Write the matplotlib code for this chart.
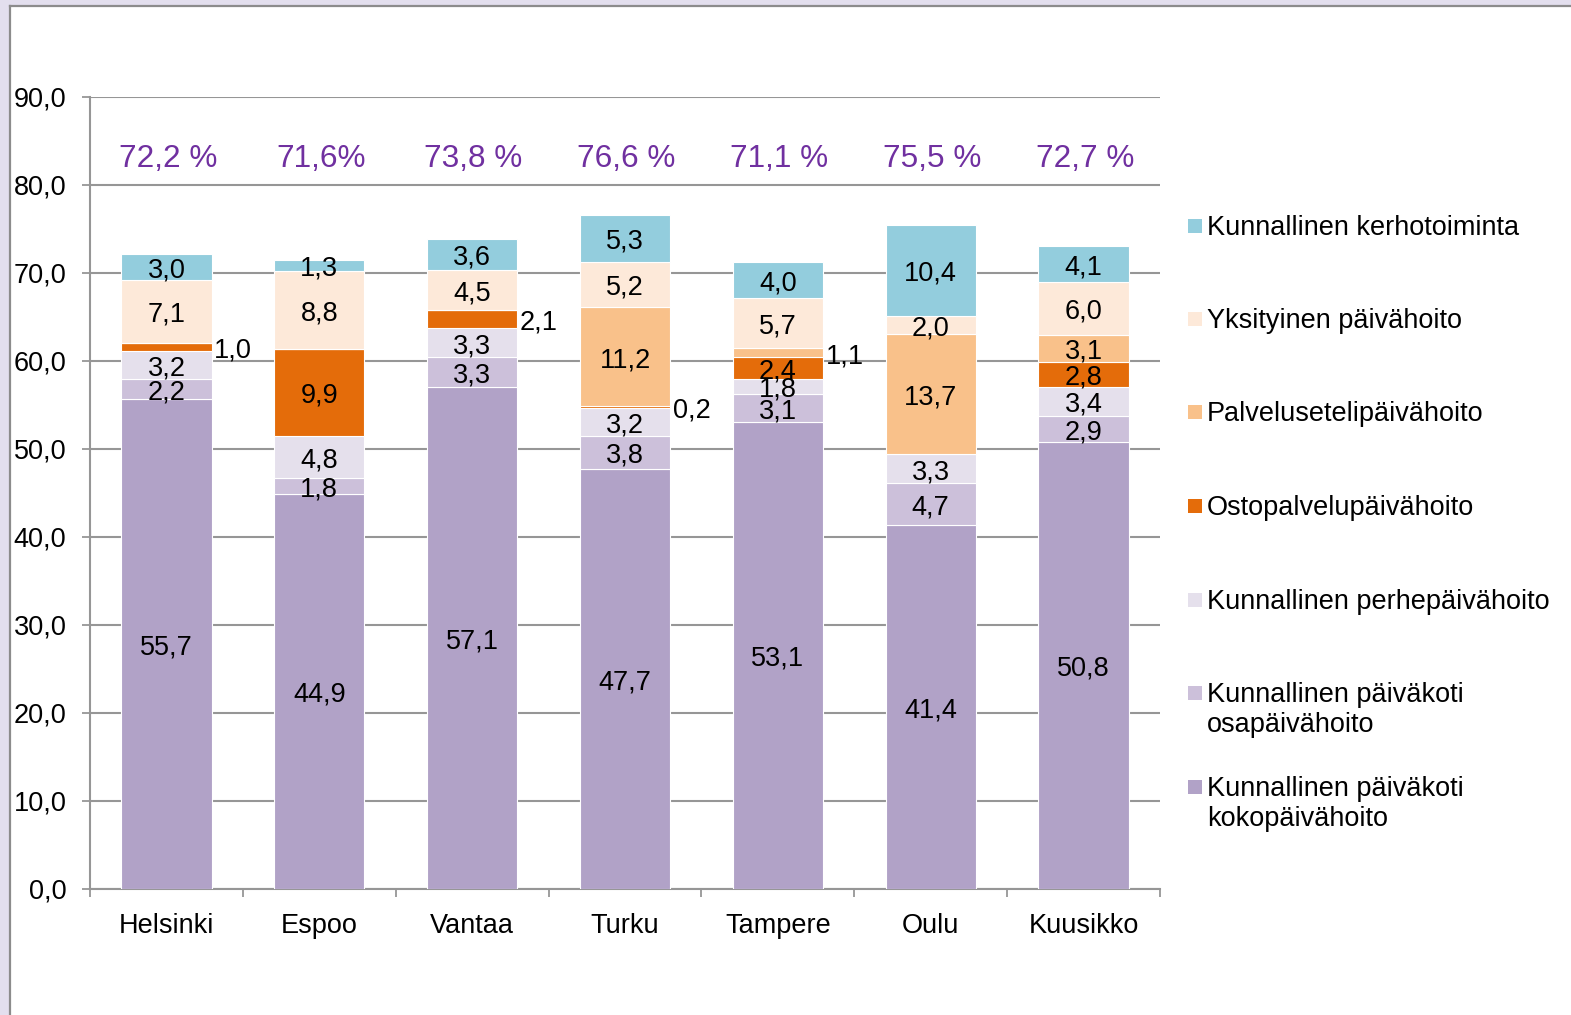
import matplotlib
matplotlib.use("Agg")
import matplotlib.pyplot as plt
from matplotlib.patches import Rectangle
from matplotlib.lines import Line2D
import numpy as np

plt.rcParams['font.family'] = ['Liberation Sans', 'DejaVu Sans']

categories = ["Helsinki", "Espoo", "Vantaa", "Turku", "Tampere", "Oulu", "Kuusikko"]

series_names = [
    "Kunnallinen päiväkoti\nkokopäivähoito",
    "Kunnallinen päiväkoti\nosapäivähoito",
    "Kunnallinen perhepäivähoito",
    "Ostopalvelupäivähoito",
    "Palvelusetelipäivähoito",
    "Yksityinen päivähoito",
    "Kunnallinen kerhotoiminta",
]

kokopaiva = [55.7, 44.9, 57.1, 47.7, 53.1, 41.4, 50.8]
osapaiva = [2.2, 1.8, 3.3, 3.8, 3.1, 4.7, 2.9]
perhepaiva = [3.2, 4.8, 3.3, 3.2, 1.8, 3.3, 3.4]
ostopalvelu = [1.0, 9.9, 2.1, 0.2, 2.4, 0.0, 2.8]
palveluseteli = [0.0, 0.0, 0.0, 11.2, 1.1, 13.7, 3.1]
yksityinen = [7.1, 8.8, 4.5, 5.2, 5.7, 2.0, 6.0]
kerho = [3.0, 1.3, 3.6, 5.3, 4.0, 10.4, 4.1]

total_labels = ["72,2 %", "71,6%", "73,8 %", "76,6 %", "71,1 %", "75,5 %", "72,7 %"]

series_values = [kokopaiva, osapaiva, perhepaiva, ostopalvelu, palveluseteli, yksityinen, kerho]
colors = ["#B1A2C7", "#CCC0DA", "#E5E0EC", "#E46C0A", "#F9C18A", "#FDE9D9", "#93CDDD"]

# labels drawn to the right of the bar: (category index, series index)
outside_labels = {(0, 3), (2, 3), (3, 3), (4, 4)}

W, H = 1571, 1015
fig = plt.figure(figsize=(W / 100, H / 100), dpi=100)

# frame background
fig.patches.append(Rectangle((0, 0), 1, 1, transform=fig.transFigure,
                             facecolor="#E3DFEE", edgecolor="none", zorder=-10))
fig.patches.append(Rectangle((10.5 / W, 0), 1, 1 - 6.5 / H, transform=fig.transFigure,
                             facecolor="white", edgecolor="none", zorder=-9))
fig.lines.append(Line2D([10 / W, 10 / W], [0, 1 - 6 / H], transform=fig.transFigure,
                        color="#8C8C8C", lw=1.6))
fig.lines.append(Line2D([10 / W, 1], [1 - 6 / H, 1 - 6 / H], transform=fig.transFigure,
                        color="#8C8C8C", lw=1.6))

ax_left, ax_right, ax_top, ax_bottom = 90, 1160, 97, 889
ax = fig.add_axes([ax_left / W, (H - ax_bottom) / H, (ax_right - ax_left) / W,
                   (ax_bottom - ax_top) / H])
ax.set_facecolor("none")

x = np.arange(len(categories))
bw = 0.59
fs = 19.5
bottom = np.zeros(len(categories))
for si, (name, vals, col) in enumerate(zip(series_names, series_values, colors)):
    vals = np.array(vals)
    ax.bar(x, vals, bw, bottom=bottom, color=col, edgecolor="white", linewidth=0.8,
           label=name, zorder=3)
    for ci, v in enumerate(vals):
        if v <= 0:
            continue
        yc = bottom[ci] + v / 2
        txt = f"{v:.1f}".replace(".", ",")
        if (ci, si) in outside_labels:
            ax.annotate(txt, (x[ci] + bw / 2, yc), xytext=(2, -2.5),
                        textcoords="offset points", ha="left", va="center",
                        fontsize=fs, color="black", zorder=5)
        else:
            ax.annotate(txt, (x[ci], yc), xytext=(0, -2.5),
                        textcoords="offset points", ha="center", va="center",
                        fontsize=fs, color="black", zorder=5)
    bottom = bottom + vals

for ci, t in enumerate(total_labels):
    ax.annotate(t, (x[ci], 83.3), xytext=(1, -2.5), textcoords="offset points",
                ha="center", va="center", fontsize=22.7, color="#7030A0")

ax.set_xlim(-0.5, len(categories) - 0.5)
ax.set_ylim(0, 90)
ax.set_yticks(np.arange(0, 91, 10))
ax.set_yticklabels([f"{v:.1f}".replace(".", ",") for v in np.arange(0, 91, 10)], fontsize=fs)
ax.yaxis.grid(True, color="#969696", linewidth=1.5, zorder=0)
ax.set_axisbelow(True)
ax.tick_params(axis="y", length=6, width=1.3, color="#969696", pad=11)

ax.set_xticks(x)
ax.set_xticklabels(categories, fontsize=fs)
ax.set_xticks(np.arange(-0.5, len(categories)), minor=True)
ax.tick_params(axis="x", which="major", length=0, pad=17)
ax.tick_params(axis="x", which="minor", length=6, width=1.3, color="#969696")

for s in ["top", "right"]:
    ax.spines[s].set_visible(False)
for s in ["left", "bottom"]:
    ax.spines[s].set_color("#969696")
    ax.spines[s].set_linewidth(1.5)

# legend (drawn manually to match layout)
legend_rows = [226, 319, 412, 506, 600, 693, 787]
for (name, col), yrow in zip(reversed(list(zip(series_names, colors))), legend_rows):
    fig.patches.append(Rectangle((1188 / W, 1 - (yrow + 7) / H), 14 / W, 14 / H,
                                 transform=fig.transFigure, facecolor=col,
                                 edgecolor="none"))
    fig.text(1207 / W, 1 - (yrow - 11) / H, name, ha="left", va="top",
             fontsize=fs, linespacing=1.18)

fig.savefig("out.png", dpi=100)
